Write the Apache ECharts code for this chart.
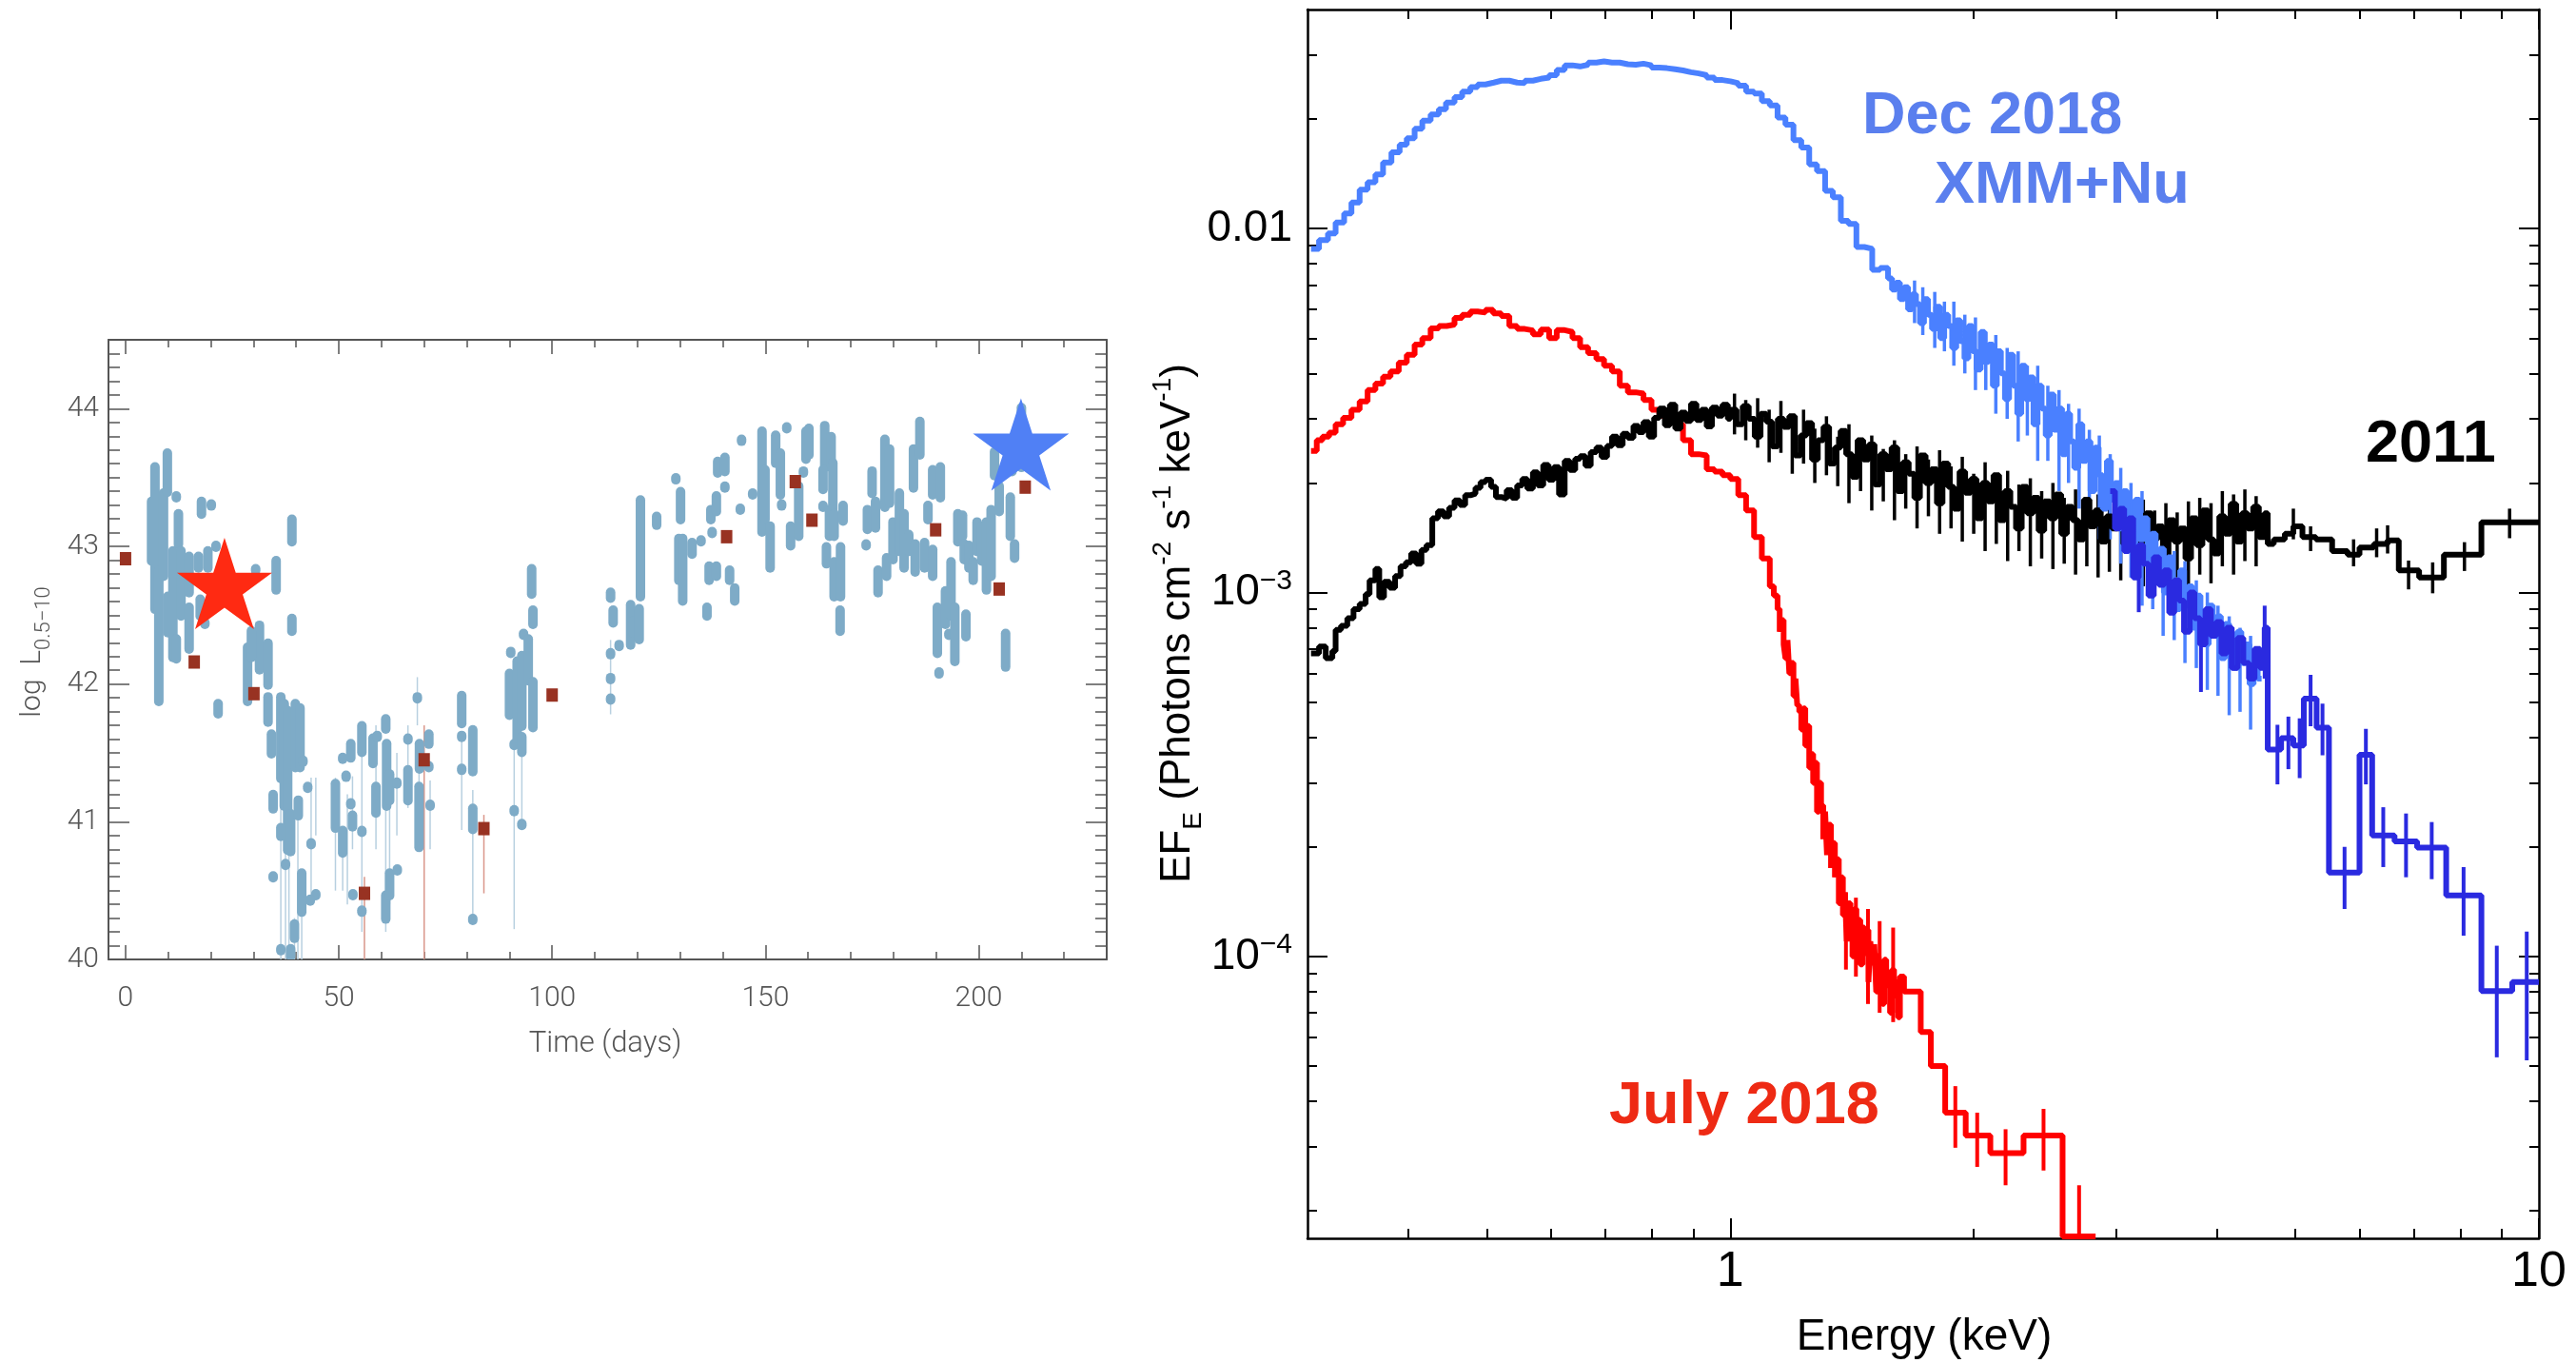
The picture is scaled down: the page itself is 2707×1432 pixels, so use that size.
<!DOCTYPE html>
<html>
<head>
<meta charset="utf-8">
<script src="https://cdn.jsdelivr.net/npm/echarts@6/dist/echarts.min.js"></script>
<style>html,body{margin:0;padding:0;background:#fff}#chart{width:2707px;height:1432px}</style>
</head>
<body>
<div id="chart"></div>
<script>
// ---- left panel: light curve (time in days, log L 0.5-10 keV) ----
const lcColumns = [
  [6.1,42.90,43.32],[6.9,42.55,43.57],[7.8,41.88,42.82],[8.9,42.79,43.38],[9.8,43.40,43.67],
  [9.9,42.38,42.63],[11.1,42.20,42.96],[11.9,43.36,43.36],[12.4,43.02,43.23],[11.9,42.19,42.32],
  [13.0,42.50,42.96],[14.9,42.67,42.92],[14.9,42.26,42.55],[17.1,42.85,42.92],[17.8,43.24,43.32],
  [20.1,43.30,43.30],[17.5,42.50,42.61],[19.3,42.85,42.96],[21.2,43.00,43.00],[21.7,41.79,41.85],
  [18.6,42.44,42.44],[30.5,42.83,42.83],[31.4,42.11,42.42],[28.6,41.88,42.26],[29.5,42.20,42.38],
  [33.4,42.00,42.29],[35.3,42.69,42.89],[39.0,43.04,43.19],[39.0,42.39,42.47],[33.4,41.73,41.90],
  [34.2,41.50,41.63],[34.6,41.10,41.19],[34.6,40.60,40.60],[36.4,41.32,41.90],[37.2,41.12,41.85],
  [38.0,40.80,41.80],[39.8,41.40,41.85],[40.9,41.40,41.82],[36.4,40.90,40.95],[37.5,40.69,40.69],
  [38.7,40.79,41.05],[40.5,41.05,41.15],[41.3,40.35,40.62],[39.6,40.16,40.25],[36.4,40.07,40.07],
  [38.7,40.03,40.07],[43.5,40.84,40.84],[42.7,41.25,41.25],[44.6,40.47,40.47],[43.3,40.43,40.43],
  [41.6,41.44,41.44],[49.2,40.96,41.27],[50.9,41.46,41.46],[50.9,40.78,40.93],[51.7,41.33,41.33],
  [52.8,41.47,41.56],[52.8,41.13,41.13],[53.2,40.97,41.04],[53.3,40.47,40.47],[55.4,41.51,41.69],
  [55.4,40.93,40.93],[55.4,40.35,40.35],[58.0,41.43,41.60],[59.0,41.62,41.62],[58.7,41.07,41.25],
  [61.0,41.68,41.74],[61.2,41.12,41.56],[61.9,41.16,41.34],[61.0,40.30,40.46],[61.9,40.47,40.62],
  [63.6,41.28,41.28],[63.7,40.65,40.65],[66.2,41.60,41.60],[66.2,41.16,41.37],[68.4,41.90,41.90],
  [68.9,41.39,41.56],[68.8,40.82,41.25],[71.1,41.57,41.63],[71.1,41.40,41.40],[71.4,41.12,41.12],
  [78.8,41.72,41.91],[78.8,41.62,41.62],[78.8,41.38,41.38],[81.4,41.37,41.66],[81.4,40.95,41.09],
  [81.4,40.29,40.29],[90.3,42.23,42.23],[90.0,41.78,42.07],[91.1,41.56,41.56],[91.1,41.08,41.08],
  [91.8,41.61,42.16],[92.9,41.70,42.20],[92.9,41.51,41.61],[92.9,40.98,40.98],[93.3,42.36,42.36],
  [94.4,42.03,42.32],[95.2,42.66,42.83],[95.5,42.44,42.53],[95.5,41.69,42.01],[113.7,42.63,42.66],
  [114.3,42.45,42.53],[113.7,42.22,42.22],[113.7,42.04,42.04],[113.7,41.89,41.89],[115.7,42.28,42.28],
  [118.4,42.29,42.57],[118.9,42.38,42.45],[120.4,42.33,42.54],[120.7,42.64,43.33],[124.5,43.16,43.21],
  [129.0,43.49,43.49],[130.1,43.20,43.39],[129.7,42.76,43.05],[130.6,42.61,43.05],[132.8,42.95,43.02],
  [134.9,43.04,43.04],[136.3,42.50,42.55],[136.8,42.76,42.85],[137.2,43.20,43.26],[137.5,43.10,43.10],
  [138.5,43.26,43.36],[138.5,42.79,42.85],[138.8,43.54,43.61],[140.5,43.55,43.64],[140.5,43.43,43.43],
  [141.6,42.76,42.82],[142.8,42.61,42.69],[144.4,43.77,43.77],[144.1,43.27,43.27],[147.0,43.38,43.38],
  [149.2,43.11,43.83],[149.9,43.20,43.55],[151.1,42.85,43.14],[152.4,43.61,43.80],[153.5,43.38,43.67],
  [155.0,43.86,43.86],[153.8,43.30,43.30],[155.9,43.01,43.14],[157.8,43.08,43.43],[159.5,43.64,43.83],
  [158.9,43.54,43.54],[160.2,43.67,43.85],[163.9,43.58,43.87],[165.4,43.58,43.79],[163.5,43.42,43.55],
  [165.8,43.26,43.60],[163.5,43.29,43.29],[165.0,43.08,43.26],[166.1,43.08,43.23],[164.3,42.88,42.99],
  [166.1,42.64,42.88],[167.6,42.64,42.99],[167.5,42.39,42.53],[168.2,43.19,43.29],[173.6,43.01,43.01],
  [173.9,43.13,43.26],[175.0,43.39,43.54],[175.8,43.14,43.32],[176.4,42.67,42.82],[178.4,42.79,42.91],
  [178.0,43.29,43.77],[179.1,43.32,43.70],[179.9,42.91,43.17],[181.4,42.97,43.38],[182.5,42.85,43.23],
  [183.6,42.97,43.08],[184.7,43.43,43.70],[186.2,43.67,43.90],[185.1,42.82,43.01],[187.3,42.85,43.02],
  [188.1,43.20,43.29],[189.2,43.38,43.55],[189.2,42.79,42.97],[191.0,43.36,43.57],[190.3,42.23,42.55],
  [190.7,42.08,42.08],[192.2,42.44,42.67],[193.5,42.50,42.88],[193.0,42.36,42.36],[194.4,42.17,42.55],
  [195.1,43.04,43.23],[196.2,43.08,43.22],[196.6,42.91,43.01],[197.0,42.35,42.50],[197.7,42.85,43.00],
  [198.7,42.76,42.88],[199.6,42.97,43.17],[200.7,42.90,43.14],[201.8,42.69,43.17],[202.9,42.79,43.26],
  [203.7,43.52,43.68],[204.8,43.26,43.43],[206.3,42.13,42.36],[207.4,43.08,43.35],[208.4,42.92,43.01],
  [207.8,43.55,43.55],[210.0,43.58,44.00]
];
const lcErrors = [
  [38.3,40.0,41.17],[39.6,40.0,40.3],[40.4,40.0,41.12],[43.5,40.41,41.32],[44.6,40.9,41.32],
  [49.2,40.5,41.32],[50.9,40.5,40.9],[53.2,40.8,41.33],[55.4,40.2,41.7],[58.7,40.8,41.7],
  [61.0,40.2,41.4],[61.9,40.4,41.4],[66.2,41.1,41.7],[68.4,41.7,42.05],[68.8,40.8,41.4],
  [78.8,40.94,41.62],[81.4,40.29,41.23],[91.1,40.22,41.62],[92.9,40.97,41.62],[113.7,41.78,42.32],
  [36.4,40.0,41.1],[37.5,40.0,40.9],[41.3,40.0,40.6],[52.0,40.4,41.2],[63.6,40.9,41.5],[71.4,40.8,41.3]
];
const squarePoints = [
  [0,42.91],[16.1,42.16],[30.1,41.93],[56.0,40.48],[70.0,41.45],[84.0,40.95],[100.0,41.92],
  [140.9,43.07],[157.0,43.47],[160.9,43.19],[189.9,43.12],[204.8,42.69],[210.9,43.43]
];
const squareErrors = [[56.0,40.0,40.6],[70.0,40.0,41.7],[84.0,40.48,41.05]];
const redStar = [[23.2,42.73]];
const blueStar = [[209.9,43.74]];

const lcMajorX = [0,50,100,150,200];
const lcMinorX = [10,20,30,40,60,70,80,90,110,120,130,140,160,170,180,190,210,220];
const lcMajorY = [40,41,42,43,44];
const lcMinorY = [40.1,40.2,40.3,40.4,40.5,40.6,40.7,40.8,40.9,41.1,41.2,41.3,41.4,41.5,41.6,41.7,41.8,41.9,
  42.1,42.2,42.3,42.4,42.5,42.6,42.7,42.8,42.9,43.1,43.2,43.3,43.4,43.5,43.6,43.7,43.8,43.9,44.1,44.2,44.3,44.4];

// ---- right panel: spectra, [energy keV, E*F_E] ----
const july2018 = [
  [0.303,0.00245],[0.308,0.00262],[0.313,0.00268],[0.319,0.00275],[0.325,0.00290],[0.332,0.00302],
  [0.340,0.00318],[0.348,0.00335],[0.356,0.00360],[0.364,0.00375],[0.372,0.00392],[0.380,0.00405],
  [0.389,0.00428],[0.398,0.00450],[0.407,0.00480],[0.416,0.00500],[0.426,0.00532],[0.436,0.00540],
  [0.446,0.00545],[0.456,0.00568],[0.466,0.00580],[0.477,0.00592],[0.487,0.00588],[0.498,0.00598],
  [0.509,0.00585],[0.521,0.00575],[0.533,0.00540],[0.545,0.00530],[0.557,0.00525],[0.570,0.00512],
  [0.583,0.00528],[0.597,0.00500],[0.610,0.00526],[0.624,0.00520],[0.638,0.00500],[0.652,0.00472],
  [0.667,0.00455],[0.683,0.00438],[0.698,0.00420],[0.714,0.00405],[0.730,0.00370],[0.747,0.00355],
  [0.764,0.00352],[0.781,0.00338],[0.799,0.00318],[0.817,0.00306],[0.835,0.00300],[0.855,0.00290],
  [0.874,0.00262],[0.894,0.00240],[0.914,0.00238],[0.935,0.00218],[0.956,0.00215],[0.978,0.00210],
  [1.000,0.00205],[1.023,0.00185],[1.046,0.00168],[1.070,0.00142],[1.094,0.00124],[1.119,0.00104],
  [1.132,0.00098],[1.144,0.00090],[1.151,0.00078],[1.157,0.00084],[1.164,0.00072],[1.170,0.00066],
  [1.177,0.00074],[1.183,0.00060],[1.190,0.00064],[1.197,0.00052],[1.204,0.00058],[1.210,0.00049],
  [1.217,0.00047],[1.224,0.00042],[1.231,0.00048],[1.238,0.00038],[1.245,0.00043],[1.252,0.00033],
  [1.259,0.00036],[1.266,0.00030],[1.273,0.00034],[1.280,0.00025],[1.288,0.00030],[1.295,0.00026],
  [1.303,0.00021],[1.310,0.00025],[1.317,0.00019],[1.324,0.00023],[1.332,0.000175],[1.339,0.000205],
  [1.347,0.000165],[1.354,0.000185],[1.362,0.000140],[1.370,0.000165],[1.378,0.000130],[1.386,0.000150],
  [1.393,0.000110],[1.400,0.000140],[1.408,0.000120],[1.416,0.000100],[1.424,0.000135],[1.432,0.000108],
  [1.440,0.000126],[1.448,0.000095],[1.457,0.000120],[1.465,0.000102],[1.473,0.000118],[1.482,0.000085],
  [1.490,0.000110],[1.498,0.000096],[1.507,0.000108],[1.515,0.000080],[1.524,0.000102],[1.532,0.000090],
  [1.541,0.000074],[1.550,0.000098],[1.559,0.000082],[1.567,0.000090],[1.576,0.000070],[1.585,0.000092],
  [1.594,0.000078],[1.603,0.000085],[1.612,0.000068],[1.621,0.000088],
  [1.64,8.0e-5],[1.72,6.2e-5],[1.77,5.0e-5],[1.844,3.72e-5],[1.955,3.22e-5],[2.097,2.88e-5],
  [2.305,3.22e-5],[2.576,1.7e-5],[2.83,1.7e-5]
];
const july2018Err = [
  [1.39,9.2e-5,1.5e-4],[1.43,8.8e-5,1.45e-4],[1.48,7.4e-5,1.35e-4],[1.53,7.0e-5,1.25e-4],[1.59,6.6e-5,1.2e-4],
  [1.898,2.98e-5,4.4e-5],[2.02,2.64e-5,3.72e-5],[2.19,2.35e-5,3.35e-5],[2.44,2.58e-5,3.81e-5],[2.70,1.7e-5,2.35e-5]
];
const obs2011 = [
  [0.303,0.00068],[0.310,0.00071],[0.316,0.00066],[0.322,0.00069],[0.325,0.00079],[0.330,0.00081],
  [0.336,0.00085],[0.342,0.00090],[0.348,0.00093],[0.354,0.00099],[0.358,0.00108],[0.364,0.00116],
  [0.368,0.00097],[0.373,0.00107],[0.379,0.00103],[0.385,0.00111],[0.391,0.00118],[0.397,0.00121],
  [0.403,0.00128],[0.409,0.00120],[0.415,0.00131],[0.421,0.00135],[0.428,0.00160],[0.435,0.00167],
  [0.442,0.00162],[0.449,0.00171],[0.456,0.00179],[0.463,0.00174],[0.470,0.00185],[0.477,0.00187],
  [0.484,0.00194],[0.491,0.00201],[0.498,0.00204],[0.506,0.00195],[0.513,0.00183],[0.521,0.00181],
  [0.529,0.00191],[0.537,0.00182],[0.545,0.00197],[0.553,0.00205],[0.561,0.00193],[0.570,0.00214],
  [0.578,0.00197],[0.587,0.00224],[0.596,0.00204],[0.605,0.00221],[0.614,0.00186],[0.624,0.00230],
  [0.633,0.00217],[0.643,0.00233],[0.652,0.00237],[0.662,0.00223],[0.672,0.00243],[0.683,0.00250],
  [0.693,0.00236],[0.704,0.00253],[0.714,0.00268],[0.725,0.00254],[0.736,0.00273],[0.747,0.00266],
  [0.759,0.00287],[0.770,0.00276],[0.781,0.00294],[0.793,0.00268],[0.805,0.00302],[0.817,0.00320],
  [0.830,0.00288],[0.842,0.00328],[0.855,0.00282],[0.868,0.00312],[0.881,0.00296],[0.894,0.00330],
  [0.908,0.00298],[0.921,0.00318],[0.935,0.00286],[0.949,0.00322],[0.964,0.00306],[0.978,0.00328],
  [0.993,0.00300],
  [1.000,0.00318],[1.018,0.00290],[1.036,0.00325],[1.054,0.00300],[1.072,0.00268],[1.090,0.00310],
  [1.108,0.00295],[1.126,0.00252],[1.145,0.00300],[1.164,0.00285],[1.183,0.00305],[1.202,0.00238],
  [1.222,0.00270],[1.242,0.00292],[1.262,0.00232],[1.283,0.00262],[1.304,0.00285],[1.325,0.00226],
  [1.347,0.00250],[1.369,0.00278],[1.391,0.00240],[1.414,0.00208],[1.437,0.00262],[1.460,0.00232],
  [1.484,0.00255],[1.508,0.00198],[1.533,0.00240],[1.558,0.00218],[1.583,0.00250],[1.609,0.00190],
  [1.635,0.00228],[1.662,0.00212],[1.689,0.00182],[1.716,0.00238],[1.744,0.00200],[1.772,0.00218],
  [1.801,0.00176],[1.830,0.00226],[1.860,0.00195],[1.890,0.00170],[1.921,0.00215],[1.952,0.00188],
  [1.984,0.00205],[2.016,0.00160],[2.049,0.00200],[2.082,0.00178],[2.116,0.00210],[2.150,0.00158],
  [2.185,0.00190],[2.220,0.00172],[2.256,0.00150],[2.293,0.00195],[2.330,0.00165],[2.368,0.00182],
  [2.406,0.00148],[2.445,0.00178],[2.485,0.00160],[2.525,0.00186],[2.566,0.00145],[2.608,0.00172],
  [2.650,0.00158],[2.693,0.00140],[2.737,0.00180],[2.781,0.00152],[2.826,0.00168],[2.872,0.00138],
  [2.919,0.00162],[2.966,0.00150],[3.014,0.00172],[3.063,0.00136],[3.113,0.00158],[3.163,0.00144],
  [3.214,0.00128],[3.266,0.00165],[3.319,0.00140],[3.373,0.00152],[3.428,0.00126],[3.483,0.00158],
  [3.540,0.00138],[3.597,0.00150],[3.655,0.00124],[3.714,0.00160],[3.774,0.00135],[3.836,0.00168],
  [3.898,0.00140],[3.961,0.00128],[4.025,0.00162],[4.090,0.00145],[4.157,0.00175],[4.224,0.00138],
  [4.293,0.00165],[4.362,0.00150],[4.433,0.00172],[4.505,0.00142],[4.578,0.00165],
  [4.62,0.00136],[4.70,0.00140],[4.85,0.00145],[4.97,0.00152],[5.10,0.00142],[5.30,0.00140],
  [5.55,0.00130],[5.80,0.00127],[6.00,0.00133],[6.25,0.00136],[6.50,0.00139],
  [6.71,0.00115],[7.11,0.00110],[7.63,0.00127],[8.49,0.00156],[10.0,0.00156]
];
const obs2011Err = [
  [1.012,0.00272,0.00352],[1.045,0.00262,0.00338],[1.081,0.00250,0.00342],[1.117,0.00228,0.00318],
  [1.155,0.00242,0.00336],[1.193,0.00212,0.00300],[1.232,0.00226,0.00318],[1.272,0.00200,0.00282],
  [1.315,0.00210,0.00305],[1.358,0.00196,0.00268],[1.402,0.00176,0.00290],[1.449,0.00190,0.00262],
  [1.496,0.00168,0.00270],[1.546,0.00178,0.00248],[1.596,0.00158,0.00262],[1.648,0.00170,0.00240],
  [1.702,0.00150,0.00252],[1.758,0.00162,0.00232],[1.815,0.00145,0.00246],[1.875,0.00150,0.00222],
  [1.936,0.00138,0.00236],[2.000,0.00145,0.00212],[2.066,0.00130,0.00228],[2.133,0.00136,0.00204],
  [2.203,0.00122,0.00216],[2.275,0.00130,0.00198],[2.350,0.00118,0.00206],[2.427,0.00124,0.00190],
  [2.506,0.00116,0.00200],[2.588,0.00120,0.00182],[2.673,0.00112,0.00192],[2.760,0.00118,0.00178],
  [2.850,0.00110,0.00186],[2.943,0.00114,0.00176],[3.040,0.00108,0.00184],[3.139,0.00112,0.00170],
  [3.242,0.00104,0.00180],[3.348,0.00112,0.00168],[3.457,0.00102,0.00176],[3.570,0.00110,0.00166],
  [3.686,0.00104,0.00178],[3.807,0.00112,0.00182],[3.931,0.00106,0.00176],[4.060,0.00118,0.00190],
  [4.192,0.00112,0.00186],[4.329,0.00122,0.00192],[4.470,0.00118,0.00184],
  [6.9,0.00102,0.001224],[7.39,0.000995,0.00121],[8.09,0.001146,0.001375],[9.2,0.00141,0.0017],
  [4.97,0.00140,0.00170],[5.22,0.00130,0.00152],[5.9,0.00118,0.00140],[6.3,0.00125,0.00150],[6.5,0.00128,0.00153]
];
const dec2018Xmm = [
  [0.303,0.0088],[0.31,0.0093],[0.318,0.0097],[0.325,0.0104],[0.333,0.0110],[0.34,0.0118],[0.348,0.0128],
  [0.356,0.0134],[0.364,0.0141],[0.372,0.0152],[0.381,0.0162],[0.39,0.0170],[0.398,0.0177],[0.407,0.0188],
  [0.416,0.0198],[0.426,0.0206],[0.436,0.0213],[0.445,0.0222],[0.456,0.0230],[0.466,0.0238],[0.477,0.0245],
  [0.487,0.0249],[0.498,0.0252],[0.51,0.0255],[0.521,0.0255],[0.533,0.0252],[0.545,0.0251],[0.557,0.0255],
  [0.57,0.0258],[0.583,0.0260],[0.597,0.0264],[0.61,0.0273],[0.624,0.0281],[0.638,0.0279],[0.652,0.0282],
  [0.667,0.0286],[0.683,0.0288],[0.698,0.0286],[0.714,0.0286],[0.73,0.0283],[0.747,0.0282],[0.764,0.0284],
  [0.781,0.0281],[0.799,0.0277],[0.817,0.0276],[0.835,0.0274],[0.855,0.0272],[0.874,0.0269],[0.894,0.0267],
  [0.914,0.0264],[0.935,0.0260],[0.956,0.0256],[0.978,0.0254],[1.0,0.0251],[1.023,0.0247],[1.046,0.0238],
  [1.07,0.0235],[1.094,0.0224],[1.119,0.0218],[1.144,0.0202],[1.17,0.0193],[1.197,0.0175],[1.224,0.0167],
  [1.252,0.0150],[1.28,0.0144],[1.31,0.0127],[1.339,0.0122],[1.37,0.0105],[1.40,0.0103],[1.432,0.0089],
  [1.465,0.0088],[1.498,0.0077],[1.532,0.0078],
  [1.567,0.0073],[1.585,0.0068],[1.603,0.0071],[1.621,0.0064],[1.640,0.0069],[1.659,0.0060],[1.678,0.0066],
  [1.697,0.0062],[1.716,0.0055],[1.736,0.0064],[1.756,0.0058],[1.776,0.0053],[1.797,0.0061],[1.818,0.0050],
  [1.839,0.0058],[1.860,0.0054],[1.881,0.0047],[1.903,0.0056],[1.925,0.0049],[1.948,0.0044],[1.970,0.0054],
  [1.993,0.0046],[2.016,0.0041],[2.040,0.0052],[2.063,0.0043],[2.087,0.0048],[2.112,0.0037],[2.136,0.0046],
  [2.161,0.0040],[2.186,0.0034],[2.212,0.0045],[2.238,0.0037],[2.264,0.0031],[2.290,0.0042],[2.317,0.0034],
  [2.344,0.0039],[2.371,0.0029],[2.399,0.0037],[2.427,0.0032],[2.455,0.0027],[2.484,0.0035],[2.513,0.0028],
  [2.542,0.0032],[2.572,0.0024],[2.602,0.0031],[2.632,0.0026],[2.663,0.0022],[2.694,0.0029],[2.725,0.0023],
  [2.757,0.0026],[2.789,0.0019],[2.822,0.0025],[2.855,0.0021],[2.888,0.0017],[2.922,0.0023],[2.956,0.0018],
  [2.990,0.0020],[3.025,0.0015],[3.060,0.0019],[3.096,0.0016],[3.132,0.0013],[3.169,0.0018],[3.206,0.0014],
  [3.243,0.0016],[3.281,0.0012],[3.319,0.00145],[3.358,0.00118],[3.397,0.00132],[3.437,0.00100],[3.477,0.00125],
  [3.518,0.00105],[3.559,0.00090],[3.600,0.00115],[3.642,0.00092],[3.685,0.00104],[3.728,0.00080],[3.771,0.00098],
  [3.815,0.00084],[3.860,0.00072],[3.905,0.00092],[3.951,0.00076],[3.997,0.00086],[4.043,0.00066],[4.091,0.00082],
  [4.139,0.00070],[4.187,0.00062],[4.236,0.00078],[4.286,0.00064],[4.336,0.00072],[4.387,0.00056],[4.438,0.00066],
  [4.490,0.00058],[4.54,0.00058]
];
const dec2018XmmErr = [
  [1.69,0.0055,0.0072],[1.73,0.0051,0.0069],[1.79,0.0047,0.0067],[1.84,0.0046,0.0063],[1.89,0.0042,0.0063],
  [1.95,0.0040,0.0058],[2.01,0.0036,0.0057],[2.07,0.0036,0.0052],[2.13,0.0031,0.0051],[2.20,0.0030,0.0047],
  [2.27,0.0026,0.0046],[2.33,0.0027,0.0042],[2.40,0.0023,0.0042],[2.47,0.0023,0.0037],[2.55,0.0019,0.0036],
  [2.62,0.0020,0.0033],[2.70,0.0017,0.0032],[2.78,0.0016,0.0028],[2.86,0.0014,0.0027],[2.95,0.0014,0.0024],
  [3.04,0.0012,0.0022],[3.13,0.00110,0.0020],[3.23,0.00092,0.0019],[3.33,0.00090,0.0016],[3.43,0.00076,0.0015],
  [3.54,0.00074,0.0013],[3.65,0.00064,0.00122],[3.77,0.00062,0.00108],[3.89,0.00054,0.00100],[4.01,0.00052,0.00092],
  [4.14,0.00046,0.00086],[4.27,0.00047,0.00080],[4.40,0.00042,0.00076]
];
const dec2018Nu = [
  [2.95,0.0019],[2.99,0.0015],[3.03,0.0017],[3.07,0.0013],[3.11,0.0016],[3.15,0.0011],[3.20,0.00135],
  [3.24,0.0012],[3.29,0.00098],[3.34,0.00125],[3.39,0.00105],[3.44,0.00115],[3.49,0.00088],[3.54,0.00108],
  [3.59,0.00095],[3.64,0.00078],[3.70,0.00100],[3.75,0.00085],[3.81,0.00072],[3.87,0.00090],[3.93,0.00076],
  [3.99,0.00083],[4.05,0.00068],[4.11,0.00080],[4.17,0.00062],[4.24,0.00075],[4.31,0.00064],[4.38,0.00058],
  [4.45,0.00070],[4.52,0.00062],[4.58,0.00080],
  [4.62,0.000370],[4.80,0.000398],[4.97,0.000380],[5.12,0.000511],[5.31,0.000425],[5.50,0.000170],
  [6.00,0.000358],[6.22,0.000215],[6.63,0.000207],[7.07,0.000199],[7.68,0.000147],[8.49,0.0000803],
  [9.27,0.000085],[10.0,0.000085]
];
const dec2018NuErr = [
  [3.2,0.000883,0.00131],[3.82,0.000533,0.000717],[4.58,0.00058,0.00092],
  [4.75,0.000297,0.000433],[4.9,0.000327,0.000456],[5.06,0.000309,0.000451],[5.22,0.000429,0.000594],
  [5.4,0.000357,0.000495],[5.75,0.000135,0.000200],[6.11,0.000297,0.000422],[6.42,0.000176,0.000257],
  [6.85,0.000165,0.000247],[7.37,0.000163,0.000234],[8.07,0.000114,0.000176],[8.87,0.0000528,0.000107],
  [9.66,0.0000518,0.000117]
];

const specMajorX = [1, 10];
const specMinorX = [0.4,0.5,0.6,0.7,0.8,0.9,2,3,4,5,6,7,8,9];
const specMajorY = [0.0001, 0.001, 0.01];
const specMinorY = [2e-5,3e-5,4e-5,5e-5,6e-5,7e-5,8e-5,9e-5,2e-4,3e-4,4e-4,5e-4,6e-4,7e-4,8e-4,9e-4,
  0.002,0.003,0.004,0.005,0.006,0.007,0.008,0.009,0.02,0.03];

const chart = echarts.init(document.getElementById('chart'));

function edgeAxis(o) {
  return {
    type: o.type, gridIndex: o.grid, position: o.pos, min: o.min, max: o.max,
    axisLine: { show: !!o.line, onZero: false, lineStyle: { color: o.color, width: o.lw } },
    axisTick: { show: true, inside: true, length: o.len, customValues: o.ticks,
      lineStyle: { color: o.color, width: o.tw } },
    axisLabel: o.label ? Object.assign({ show: true, customValues: o.ticks }, o.label) : { show: false },
    splitLine: { show: false }
  };
}

const lcFont = { color: '#555', fontFamily: 'Roboto', fontWeight: 300, fontSize: 30 };
const gray = '#555';

const xAxes = [
  edgeAxis({ type: 'value', grid: 0, pos: 'bottom', min: -4, max: 230, line: true, color: gray, lw: 2,
    len: 15, tw: 1.5, ticks: lcMajorX, label: Object.assign({ margin: 26 }, lcFont) }),
  edgeAxis({ type: 'value', grid: 0, pos: 'bottom', min: -4, max: 230, color: gray, len: 8, tw: 1.5, ticks: lcMinorX }),
  edgeAxis({ type: 'value', grid: 0, pos: 'top', min: -4, max: 230, line: true, color: gray, lw: 2, len: 15, tw: 1.5, ticks: lcMajorX }),
  edgeAxis({ type: 'value', grid: 0, pos: 'top', min: -4, max: 230, color: gray, len: 8, tw: 1.5, ticks: lcMinorX }),
  edgeAxis({ type: 'log', grid: 1, pos: 'bottom', min: 0.3, max: 10, line: true, color: '#000', lw: 2.5,
    len: 21, tw: 2, ticks: specMajorX,
    label: { color: '#000', fontFamily: 'Liberation Sans', fontSize: 52, margin: 10,
      formatter: v => (v >= 5 ? '10' : '1') } }),
  edgeAxis({ type: 'log', grid: 1, pos: 'bottom', min: 0.3, max: 10, color: '#000', len: 10, tw: 2, ticks: specMinorX }),
  edgeAxis({ type: 'log', grid: 1, pos: 'top', min: 0.3, max: 10, line: true, color: '#000', lw: 2.5, len: 21, tw: 2, ticks: specMajorX }),
  edgeAxis({ type: 'log', grid: 1, pos: 'top', min: 0.3, max: 10, color: '#000', len: 10, tw: 2, ticks: specMinorX })
];
const yAxes = [
  edgeAxis({ type: 'value', grid: 0, pos: 'left', min: 40, max: 44.5, line: true, color: gray, lw: 2,
    len: 22, tw: 1.5, ticks: lcMajorY, label: Object.assign({ margin: 10 }, lcFont) }),
  edgeAxis({ type: 'value', grid: 0, pos: 'left', min: 40, max: 44.5, color: gray, len: 12, tw: 1.5, ticks: lcMinorY }),
  edgeAxis({ type: 'value', grid: 0, pos: 'right', min: 40, max: 44.5, line: true, color: gray, lw: 2, len: 22, tw: 1.5, ticks: lcMajorY }),
  edgeAxis({ type: 'value', grid: 0, pos: 'right', min: 40, max: 44.5, color: gray, len: 12, tw: 1.5, ticks: lcMinorY }),
  edgeAxis({ type: 'log', grid: 1, pos: 'left', min: 1.68e-5, max: 0.04, line: true, color: '#000', lw: 2.5,
    len: 21, tw: 2, ticks: specMajorY,
    label: { color: '#000', fontFamily: 'Liberation Sans', fontSize: 46, margin: 16,
      formatter: v => (v > 0.005 ? '0.01' : '{m|10}{s|\u2212' + Math.round(-Math.log10(v)) + '}'),
      rich: { m: { fontFamily: 'Liberation Sans', fontSize: 46, lineHeight: 54 },
              s: { fontFamily: 'Liberation Sans', fontSize: 30, verticalAlign: 'top', lineHeight: 54 } } } }),
  edgeAxis({ type: 'log', grid: 1, pos: 'left', min: 1.68e-5, max: 0.04, color: '#000', len: 10, tw: 2, ticks: specMinorY }),
  edgeAxis({ type: 'log', grid: 1, pos: 'right', min: 1.68e-5, max: 0.04, line: true, color: '#000', lw: 2.5, len: 21, tw: 2, ticks: specMajorY }),
  edgeAxis({ type: 'log', grid: 1, pos: 'right', min: 1.68e-5, max: 0.04, color: '#000', len: 10, tw: 2, ticks: specMinorY })
];

function capsule(color, w, h) {
  return function (params, api) {
    const a = api.coord([api.value(0), api.value(2)]);
    const b = api.coord([api.value(0), api.value(1)]);
    return { type: 'rect', shape: { x: a[0] - w / 2, y: a[1] - h / 2, width: w, height: b[1] - a[1] + h, r: w / 2 },
      style: { fill: color } };
  };
}
function bars(color, lw) {
  return function (params, api) {
    const a = api.coord([api.value(0), api.value(1)]);
    const b = api.coord([api.value(0), api.value(2)]);
    return { type: 'line', shape: { x1: a[0], y1: a[1], x2: b[0], y2: b[1] }, style: { stroke: color, lineWidth: lw } };
  };
}
function custom(data, fn, xi) {
  return { type: 'custom', xAxisIndex: xi, yAxisIndex: xi, data: data, renderItem: fn, clip: true,
    encode: { x: 0, y: [1, 2] }, silent: true };
}
function spectrum(data, color) {
  return { type: 'line', xAxisIndex: 4, yAxisIndex: 4, data: data, step: 'end', showSymbol: false,
    clip: true, lineStyle: { color: color, width: 6 }, silent: true };
}

const starPath = 'path://M0,-100 L22.45,-30.9 L95.1,-30.9 L36.3,11.8 L58.8,80.9 L0,38.2 L-58.8,80.9 L-36.3,11.8 L-95.1,-30.9 L-22.45,-30.9 Z';

const option = {
  animation: false,
  backgroundColor: '#fff',
  grid: [
    { left: 114, top: 357, width: 1049, height: 651 },
    { left: 1374, top: 10, width: 1294, height: 1291 }
  ],
  xAxis: xAxes,
  yAxis: yAxes,
  series: [
    custom(lcErrors, bars('#b8d0e0', 1.5), 0),
    custom(squareErrors, bars('#d9968a', 1.5), 0),
    custom(lcColumns, capsule('#7eabc7', 10, 12), 0),
    { type: 'scatter', xAxisIndex: 0, yAxisIndex: 0, data: squarePoints, symbol: 'rect',
      symbolSize: [12, 14], itemStyle: { color: '#983222', opacity: 1 }, silent: true },
    { type: 'scatter', xAxisIndex: 0, yAxisIndex: 0, data: redStar, symbol: starPath,
      symbolSize: [100, 96], itemStyle: { color: '#ff2a12', opacity: 1 }, silent: true },
    { type: 'scatter', xAxisIndex: 0, yAxisIndex: 0, data: blueStar, symbol: starPath,
      symbolSize: [101, 97], itemStyle: { color: '#5080f5', opacity: 1 }, silent: true },

    spectrum(july2018, '#ff0000'),
    custom(july2018Err, bars('#ff0000', 4), 4),
    spectrum(obs2011, '#000000'),
    custom(obs2011Err, bars('#000000', 3.5), 4),
    spectrum(dec2018Xmm, '#4a80ff'),
    custom(dec2018XmmErr, bars('#4a80ff', 3.5), 4),
    spectrum(dec2018Nu, '#2a2ae0'),
    custom(dec2018NuErr, bars('#2a2ae0', 4), 4)
  ],
  graphic: [
    { type: 'text', x: 34, y: 685, rotation: Math.PI / 2,
      style: { text: '{a|log  L}{b|0.5\u221210}', align: 'center', verticalAlign: 'middle', fill: gray,
        rich: { a: { fontFamily: 'Roboto', fontWeight: 300, fontSize: 30, lineHeight: 46, fill: gray },
                b: { fontFamily: 'Roboto', fontWeight: 300, fontSize: 22, verticalAlign: 'bottom', lineHeight: 46, fill: gray } } } },
    { type: 'text', x: 636, y: 1097,
      style: { text: 'Time (days)', align: 'center', verticalAlign: 'middle', fill: gray,
        fontFamily: 'Roboto', fontWeight: 300, fontSize: 31 } },
    { type: 'text', x: 1238, y: 655, rotation: Math.PI / 2,
      style: { text: '{t|EF}{sb|E}{t| (Photons cm}{sp|-2}{t| s}{sp|-1}{t| keV}{sp|-1}{t|)}',
        align: 'center', verticalAlign: 'middle', fill: '#000',
        rich: { t: { fontFamily: 'Liberation Sans', fontSize: 44, lineHeight: 60, fill: '#000' },
                sb: { fontFamily: 'Liberation Sans', fontSize: 28, verticalAlign: 'bottom', lineHeight: 60, fill: '#000' },
                sp: { fontFamily: 'Liberation Sans', fontSize: 28, verticalAlign: 'top', lineHeight: 60, fill: '#000' } } } },
    { type: 'text', x: 2022, y: 1405,
      style: { text: 'Energy (keV)', align: 'center', verticalAlign: 'middle', fill: '#000',
        fontFamily: 'Liberation Sans', fontSize: 46 } },
    { type: 'text', x: 1957, y: 123,
      style: { text: 'Dec 2018', align: 'left', verticalAlign: 'middle', fill: '#5a7fee',
        fontFamily: 'Liberation Sans', fontWeight: 'bold', fontSize: 63 } },
    { type: 'text', x: 2033, y: 196,
      style: { text: 'XMM+Nu', align: 'left', verticalAlign: 'middle', fill: '#5a7fee',
        fontFamily: 'Liberation Sans', fontWeight: 'bold', fontSize: 63 } },
    { type: 'text', x: 2486, y: 468,
      style: { text: '2011', align: 'left', verticalAlign: 'middle', fill: '#000',
        fontFamily: 'Liberation Sans', fontWeight: 'bold', fontSize: 63 } },
    { type: 'text', x: 1691, y: 1163,
      style: { text: 'July 2018', align: 'left', verticalAlign: 'middle', fill: '#ee2a14',
        fontFamily: 'Liberation Sans', fontWeight: 'bold', fontSize: 63 } }
  ]
};

chart.setOption(option);
</script>
</body>
</html>
